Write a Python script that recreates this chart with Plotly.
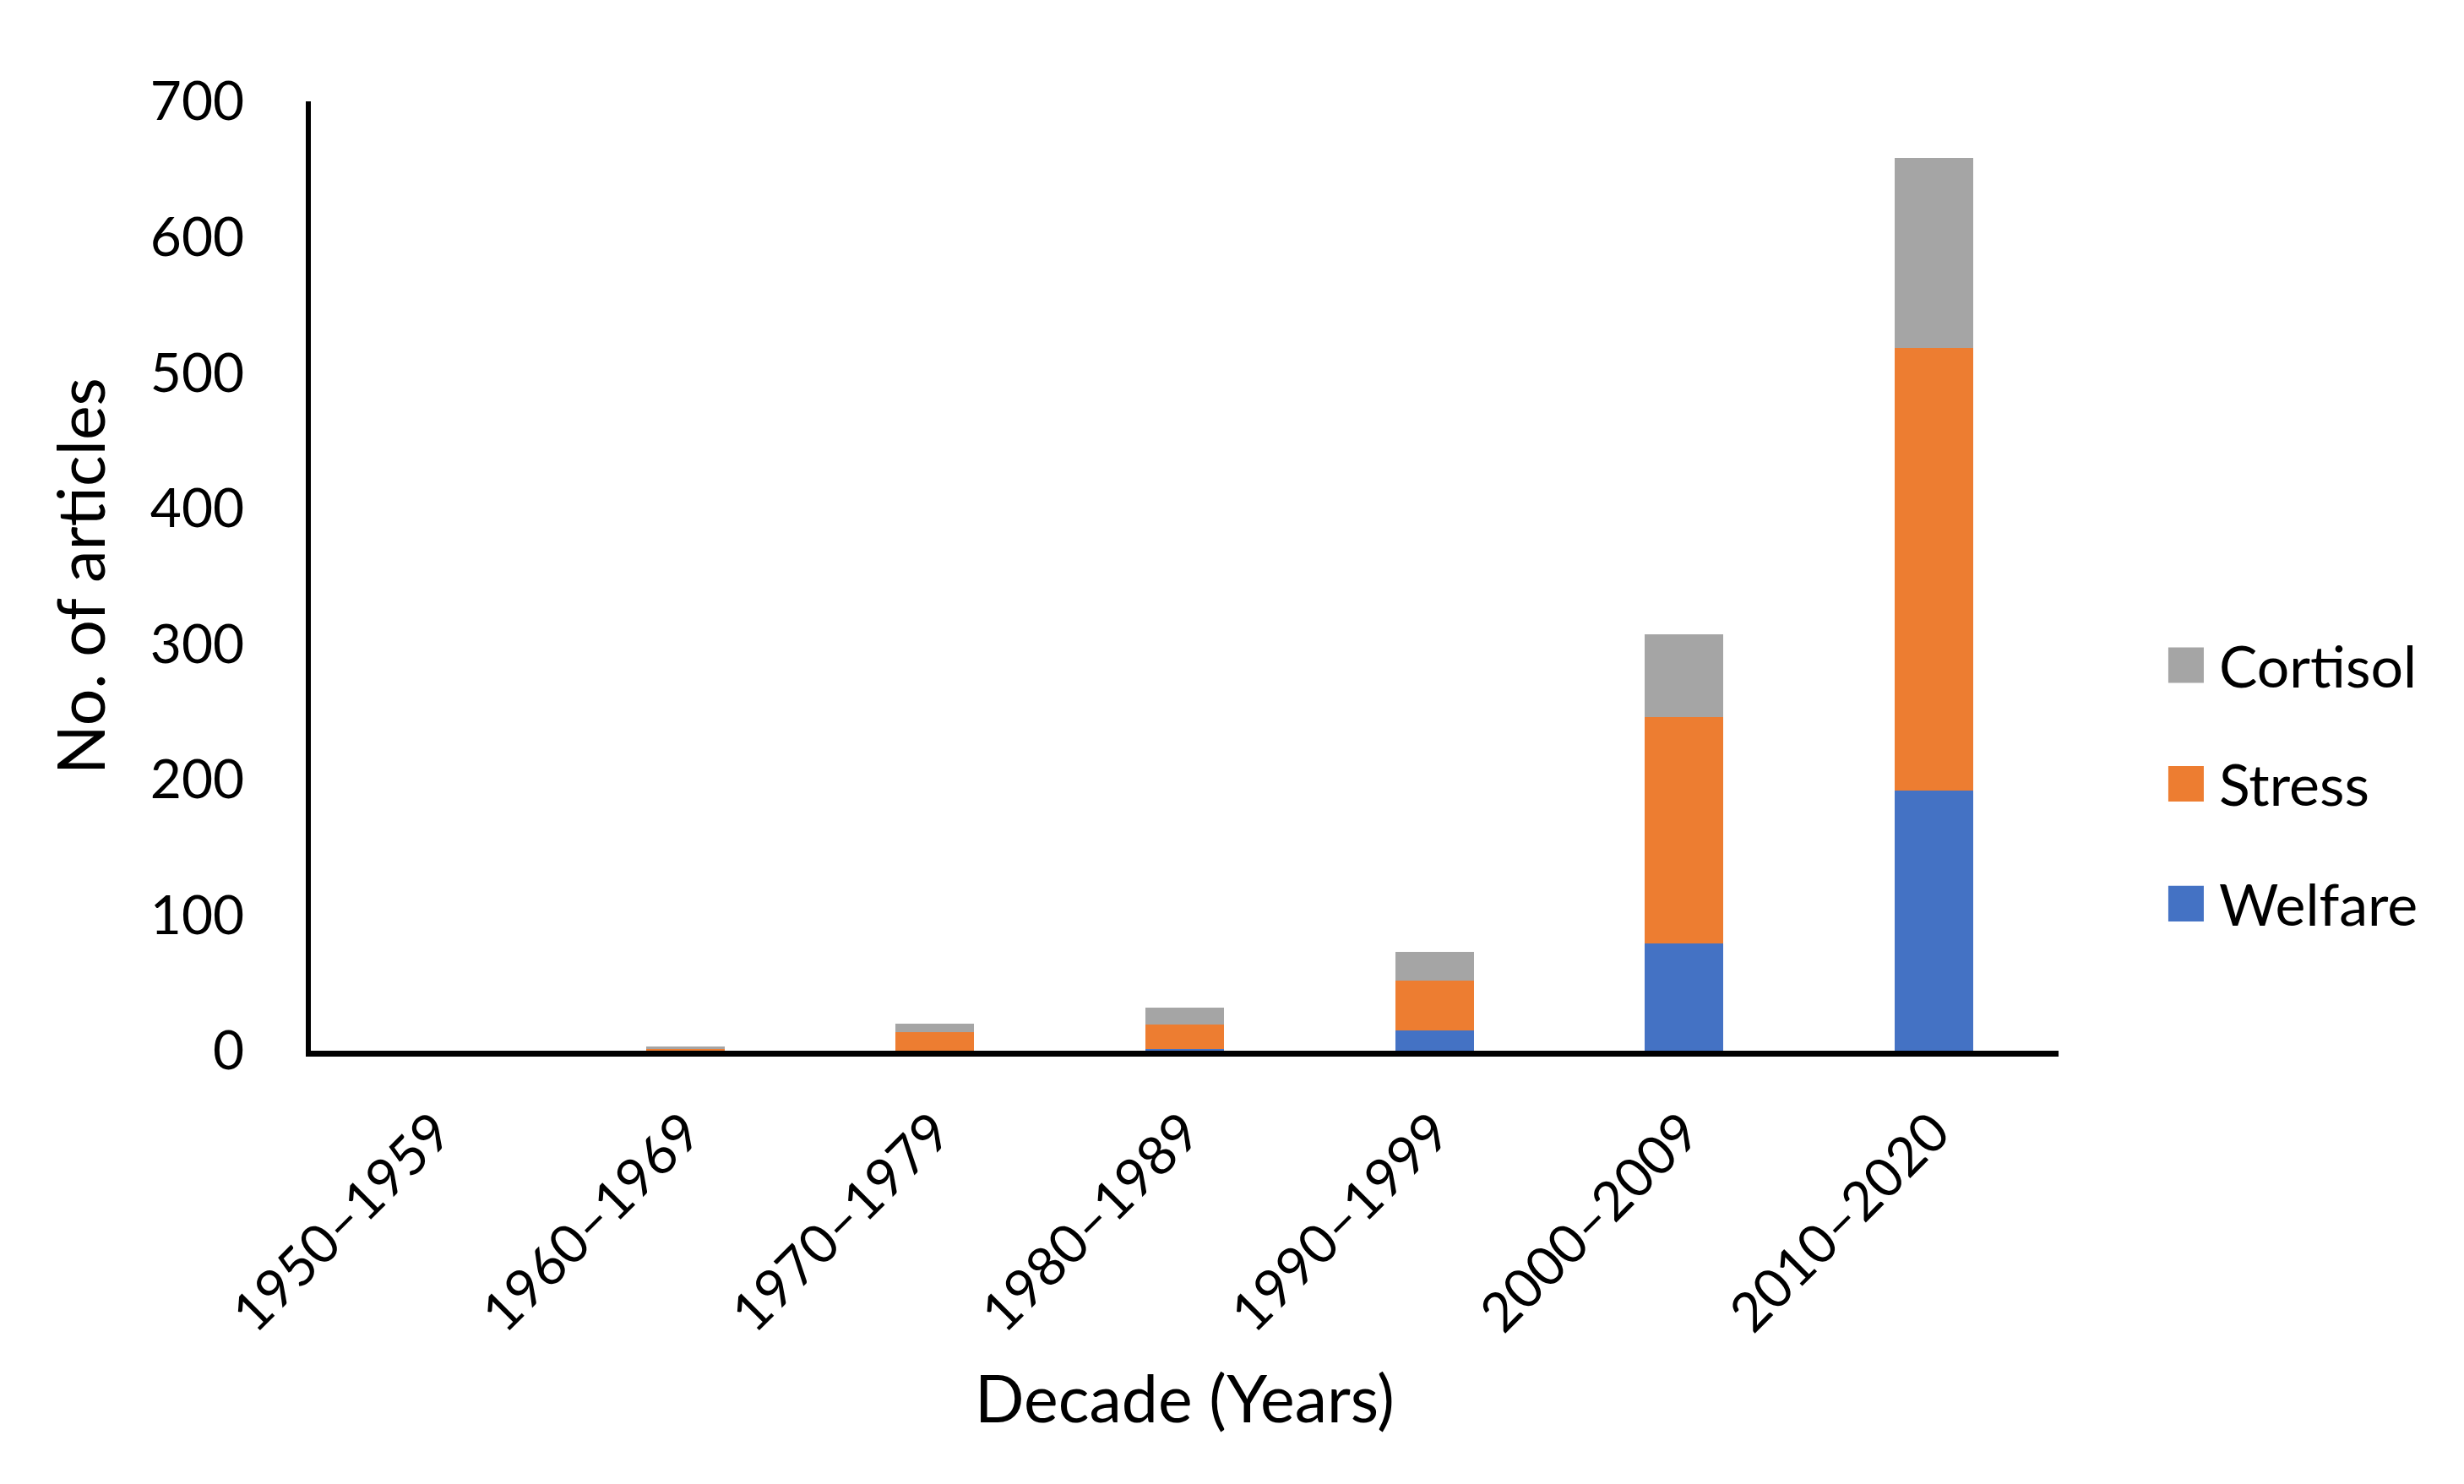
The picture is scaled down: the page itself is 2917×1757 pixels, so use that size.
import plotly.graph_objects as go

decades = ["1950–1959", "1960–1969", "1970–1979", "1980–1989", "1990–1999", "2000–2009", "2010–2020"]
welfare = [0, 0, 0, 1, 15, 79, 192]
stress = [0, 1, 14, 18, 37, 167, 326]
cortisol = [0, 2, 6, 13, 21, 61, 140]

series_names = ["Welfare", "Stress", "Cortisol"]
series_colors = ["#4472C4", "#ED7D31", "#A5A5A5"]
series_values = [welfare, stress, cortisol]

y_ticks = [0, 100, 200, 300, 400, 500, 600, 700]

FONT = "Lato, Carlito, Calibri, sans-serif"
TICK_FS = 64
TITLE_FS = 77
LEG_FS = 68

fig = go.Figure()
for name, color, vals in zip(series_names, series_colors, series_values):
    fig.add_trace(go.Bar(x=decades, y=vals, name=name, marker=dict(color=color, line=dict(width=0)),
                         showlegend=False))

# manual legend (top to bottom: Cortisol, Stress, Welfare)
legend_y = {"Cortisol": 0.4062, "Stress": 0.2812, "Welfare": 0.1549}
half = 0.0187  # half swatch height in paper units
shapes = []
annotations = []
for name, color in zip(series_names, series_colors):
    yc = legend_y[name]
    shapes.append(dict(type="rect", xref="paper", yref="paper", x0=1.0628, x1=1.0831,
                       y0=yc - half, y1=yc + half, fillcolor=color, line=dict(width=0)))
    annotations.append(dict(xref="paper", yref="paper", x=1.0910, y=yc, text=name, showarrow=False,
                            xanchor="left", yanchor="middle",
                            font=dict(family=FONT, size=LEG_FS, color="black")))

fig.update_layout(
    width=2917, height=1757,
    margin=dict(l=360, r=488, t=112, b=521, autoexpand=False),
    barmode="stack", bargap=0.685,
    plot_bgcolor="white", paper_bgcolor="white",
    font=dict(family=FONT, size=TICK_FS, color="black"),
    shapes=shapes, annotations=annotations,
    showlegend=False,
)
fig.update_xaxes(
    showline=True, linecolor="black", linewidth=7, showgrid=False, ticks="",
    tickangle=-45, tickfont=dict(size=TICK_FS), ticklabelstandoff=26,
    title=dict(text="Decade (Years)", font=dict(size=TITLE_FS), standoff=43),
    automargin=False,
)
fig.update_yaxes(
    range=[0, 700], tickvals=y_ticks, ticktext=[str(v) for v in y_ticks],
    showline=True, linecolor="black", linewidth=6, showgrid=False, zeroline=False, ticks="",
    tickfont=dict(size=TICK_FS), ticklabelstandoff=60,
    title=dict(text="No. of articles", font=dict(size=TITLE_FS), standoff=30),
    automargin=False,
)

fig.write_html("out.html")
